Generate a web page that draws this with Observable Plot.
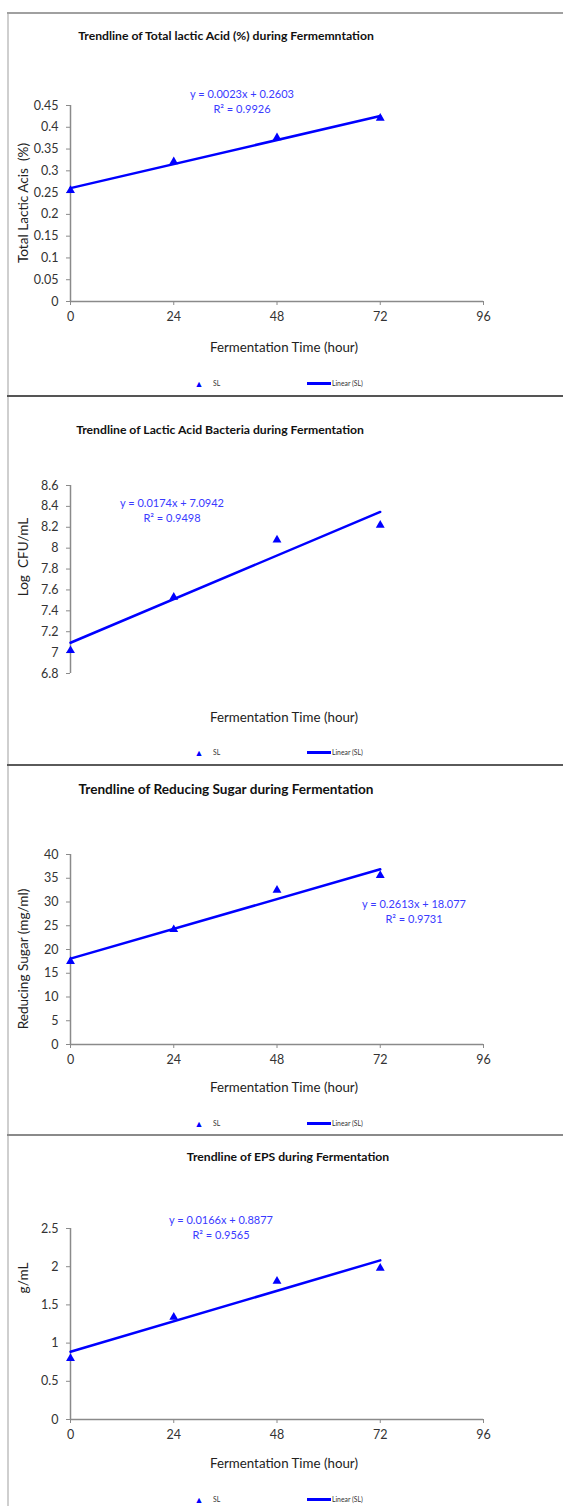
<!DOCTYPE html>
<html>
<head>
<meta charset="utf-8">
<script src="https://cdn.jsdelivr.net/npm/d3@7"></script>
<script src="https://cdn.jsdelivr.net/npm/@observablehq/plot@0.6"></script>
<style>
  html, body { margin: 0; padding: 0; background: #fff; }
  #page { position: relative; width: 563px; height: 1506px; overflow: hidden; background: #fff; font-family: Lato, "Open Sans", sans-serif; }
  .abs { position: absolute; white-space: pre; }
  .c { transform: translate(-50%, -50%); }
  .title { font-weight: bold; color: #111; font-size: 12.2px; }
  .eq { color: #3a3aff; font-size: 11px; text-align: center; line-height: 15px; }
  .axt { color: #222; font-size: 13.3px; }
  .ylab { color: #222; font-size: 13.6px; transform: translate(-50%, -50%) rotate(-90deg); }
  .leg { color: #333; font-size: 6.8px; }
  .hline { position: absolute; left: 7px; width: 560px; height: 2px; }
  svg { position: absolute; left: 0; overflow: visible; }
</style>
</head>
<body>
<div id="page"></div>
<script>
// ---------- data ----------
const hours = [0, 24, 48, 72];
const xTicks = [0, 24, 48, 72, 96];

const lacticAcid = [0.255, 0.321, 0.376, 0.421];
const lacticBacteria = [7.02, 7.53, 8.08, 8.22];
const reducingSugar = [17.5, 24.2, 32.5, 35.6];
const eps = [0.80, 1.34, 1.81, 1.98];

const slopes = [0.0023, 0.0174, 0.2613, 0.0166];
const intercepts = [0.2603, 7.0942, 18.077, 0.8877];
const r2 = ["0.9926", "0.9498", "0.9731", "0.9565"];

const yTicks1 = [0, 0.05, 0.1, 0.15, 0.2, 0.25, 0.3, 0.35, 0.4, 0.45];
const yTicks2 = [6.8, 7, 7.2, 7.4, 7.6, 7.8, 8, 8.2, 8.4, 8.6];
const yTicks3 = [0, 5, 10, 15, 20, 25, 30, 35, 40];
const yTicks4 = [0, 0.5, 1, 1.5, 2, 2.5];

const titles = [
  "Trendline of Total lactic Acid (%) during Fermemntation",
  "Trendline of Lactic Acid Bacteria during Fermentation",
  "Trendline of Reducing Sugar during Fermentation",
  "Trendline of EPS during Fermentation"
];
const yLabels = ["Total Lactic Acis  (%)", "Log  CFU/mL", "Reducing Sugar (mg/ml)", "g/mL"];
const xLabel = "Fermentation Time (hour)";
const legendLabels = ["SL", "Linear (SL)"];

// ---------- layout ----------
const panels = [
  { values: lacticAcid, yTicks: yTicks1, domain: [0, 0.45], top: 12, height: 383, mt: 93, mb: 94, xAxis: true,
    titleX: 226, titleY: 35, titleSize: 12.2, eqX: 242, eqY: 101, yLabY: 203, xLabY: 347, legY: 383 },
  { values: lacticBacteria, yTicks: yTicks2, domain: [6.8, 8.6], top: 396, height: 368, mt: 89, mb: 91, xAxis: false,
    titleX: 220, titleY: 429, titleSize: 12.2, eqX: 172, eqY: 510, yLabY: 557, xLabY: 717, legY: 752 },
  { values: reducingSugar, yTicks: yTicks3, domain: [0, 40], top: 765, height: 369, mt: 89, mb: 90, xAxis: true,
    titleX: 226, titleY: 789, titleSize: 13.6, eqX: 414, eqY: 911, yLabY: 959, xLabY: 1087, legY: 1123 },
  { values: eps, yTicks: yTicks4, domain: [0, 2.5], top: 1135, height: 371, mt: 93, mb: 87, xAxis: true,
    titleX: 288, titleY: 1156, titleSize: 12.2, eqX: 221, eqY: 1227, yLabY: 1278, xLabY: 1463, legY: 1499 }
];

const page = document.getElementById("page");
function addDiv(cls, text, x, y, extra) {
  const d = document.createElement("div");
  d.className = "abs " + cls;
  d.innerHTML = text;
  d.style.left = x + "px";
  d.style.top = y + "px";
  if (extra) Object.assign(d.style, extra);
  page.appendChild(d);
  return d;
}

// borders
const vline = document.createElement("div");
Object.assign(vline.style, { position: "absolute", left: "7px", top: "12px", width: "2px", height: "1494px", background: "#cfcfcf" });
page.appendChild(vline);
[[12, "#a0a0a0"], [395, "#555"], [764, "#5a5a5a"], [1134, "#8a8a8a"]].forEach(([y, c]) => {
  const h = document.createElement("div");
  h.className = "hline";
  h.style.top = y + "px";
  h.style.background = c;
  page.appendChild(h);
});

const fmt = d => String(+d.toFixed(2));

panels.forEach((p, i) => {
  const pts = hours.map((h, j) => ({ x: h, y: p.values[j] }));
  const trend = [0, 72].map(x => ({ x, y: slopes[i] * x + intercepts[i] }));
  const marks = [
    Plot.ruleX([0], { y1: p.domain[0], y2: p.domain[1], stroke: "#8a8a8a", strokeWidth: 1.5 }),
    Plot.axisY({ ticks: p.yTicks, tickFormat: fmt, tickSize: 4, tickPadding: 8, fontSize: 12.5, stroke: "#8a8a8a", fill: "#333", label: null })
  ];
  if (p.xAxis) {
    marks.push(Plot.ruleY([p.domain[0]], { x1: 0, x2: 96, stroke: "#8a8a8a", strokeWidth: 1.5 }));
    marks.push(Plot.axisX({ ticks: xTicks, tickSize: 4, tickPadding: 7, fontSize: 12.5, stroke: "#8a8a8a", fill: "#333", label: null }));
  }
  marks.push(Plot.line(trend, { x: "x", y: "y", stroke: "#0000ff", strokeWidth: 2.5 }));
  marks.push(Plot.dot(pts, { x: "x", y: "y", symbol: "triangle", r: 3.3, fill: "#0000ff", stroke: "none" }));

  const chart = Plot.plot({
    width: 563,
    height: p.height,
    marginLeft: 70,
    marginRight: 80,
    marginTop: p.mt,
    marginBottom: p.mb,
    style: { fontFamily: "Lato, 'Open Sans', sans-serif", background: "transparent", overflow: "visible" },
    x: { domain: [0, 96], axis: null },
    y: { domain: p.domain, axis: null },
    marks
  });
  chart.style.top = p.top + "px";
  page.appendChild(chart);

  addDiv("title c", titles[i], p.titleX, p.titleY, { fontSize: p.titleSize + "px" });
  addDiv("eq c", `y = ${slopes[i]}x + ${intercepts[i]}\nR² = ${r2[i]}`, p.eqX, p.eqY);
  addDiv("ylab", yLabels[i], 23, p.yLabY);
  addDiv("axt c", xLabel, 284, p.xLabY);
  // legend
  addDiv("leg c", "▲", 199, p.legY, { color: "#0000ff", fontSize: "9px" });
  addDiv("leg", legendLabels[0], 213, p.legY, { transform: "translateY(-50%)" });
  addDiv("", "", 307, p.legY - 1, { width: "24px", height: "2.5px", background: "#0000ff" });
  addDiv("leg", legendLabels[1], 332, p.legY, { transform: "translateY(-50%)" });
});
</script>
</body>
</html>
